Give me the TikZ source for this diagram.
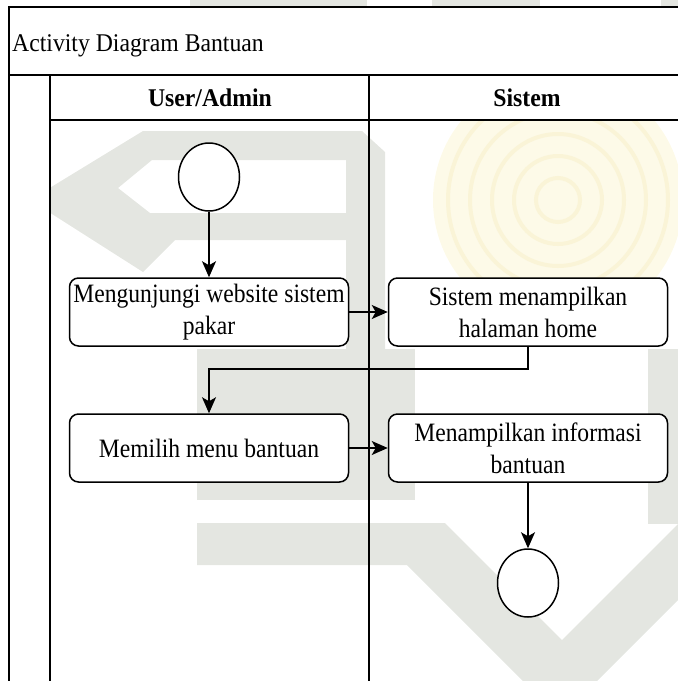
\documentclass[tikz,border=0pt]{standalone}
\usepackage{fontspec}
\setmainfont{Liberation Serif}
\newfontfamily\bodyfont{Liberation Serif}[FakeStretch=0.89]
\newfontfamily\headfont{Liberation Serif}[FakeStretch=0.93]
\usetikzlibrary{shapes.geometric,arrows.meta}
\definecolor{wmgrey}{RGB}{228,230,225}
\definecolor{wmyellow}{RGB}{253,250,232}
\definecolor{wmring}{RGB}{250,244,215}
\begin{document}
\begin{tikzpicture}[x=1pt,y=-1pt,
  frame/.style={line width=2pt},
  lane/.style={line width=1.4pt},
  act/.style={draw, line width=1.5pt, rounded corners=9pt, fill=white,
    minimum width=279pt, minimum height=68pt,
    align=center, inner sep=0pt, font=\bodyfont\fontsize{26.5}{32}\selectfont},
  endpoint/.style={draw, ellipse, line width=1.5pt, fill=white,
    minimum width=61pt, minimum height=68pt, inner sep=0pt},
  flow/.style={line width=1.5pt, -{Stealth[length=16pt,width=14pt,inset=4pt]}},
  lanehead/.style={font=\headfont\fontsize{25.5}{30}\selectfont\bfseries}
]
\useasboundingbox (0,0) rectangle (678,681);

% faint background emblem
\fill[wmyellow] (558,200) circle (125pt);
\foreach \r in {22,44,66,88,110}
  \draw[wmring, line width=4pt] (558,200) circle (\r pt);
\fill[wmgrey, even odd rule]
  (143,131) -- (362,131) -- (385,152) -- (385,350) -- (346,350) -- (346,240)
  -- (175,240) -- (143,272) -- (30,200) -- cycle
  (152,160) -- (346,160) -- (346,213) -- (150,213) -- (118,188) -- cycle;
\fill[wmgrey] (197,349) rectangle (415,500);
\fill[wmgrey] (197,523) -- (445,523) -- (562,640) -- (678,524) -- (678,600)
  -- (597,681) -- (523,681) -- (407,565) -- (197,565) -- cycle;
\fill[wmgrey] (648,349) rectangle (678,524);
\fill[wmgrey] (190,0) rectangle (367,7);
\fill[wmgrey] (432,0) rectangle (540,7);
\fill[wmgrey] (661,0) rectangle (678,7);

% opaque title, header and pool strip
\fill[white] (9,7) rectangle (678,120);
\fill[white] (9,120) rectangle (50,681);

% pool and lanes
\draw[frame] (678,7) -- (9,7) -- (9,681);
\draw[frame] (9,75) -- (678,75);
\draw[lane, line width=1.6pt] (50,75) -- (50,681);
\draw[lane, line width=1.6pt] (50,120) -- (678,120);
\draw[lane] (369,75) -- (369,681);

\node[anchor=base west, inner sep=0pt, font=\headfont\fontsize{25.5}{30}\selectfont] (title) at (12,51) {Activity Diagram Bantuan};
\node[lanehead] (h1) at (210,98) {User/Admin};
\node[lanehead] (h2) at (527,98) {Sistem};

% activities
\node[endpoint] (start) at (209,177) {};
\node[act] (a1) at (209,312) {Mengunjungi website sistem\\pakar};
\node[act] (a2) at (528,312) {Sistem menampilkan\\halaman home};
\node[act] (a3) at (209,448) {Memilih menu bantuan};
\node[act] (a4) at (528,448) {Menampilkan informasi\\bantuan};
\node[endpoint] (stop) at (528,583) {};
\coordinate (bend) at (209,369);

% flows
\draw[flow] (start) -- (a1);
\draw[flow] (a1) -- (a2);
\draw[flow] (a2.south) |- (bend) -- (a3.north);
\draw[flow] (a3) -- (a4);
\draw[flow] (a4) -- (stop);
\end{tikzpicture}
\end{document}
